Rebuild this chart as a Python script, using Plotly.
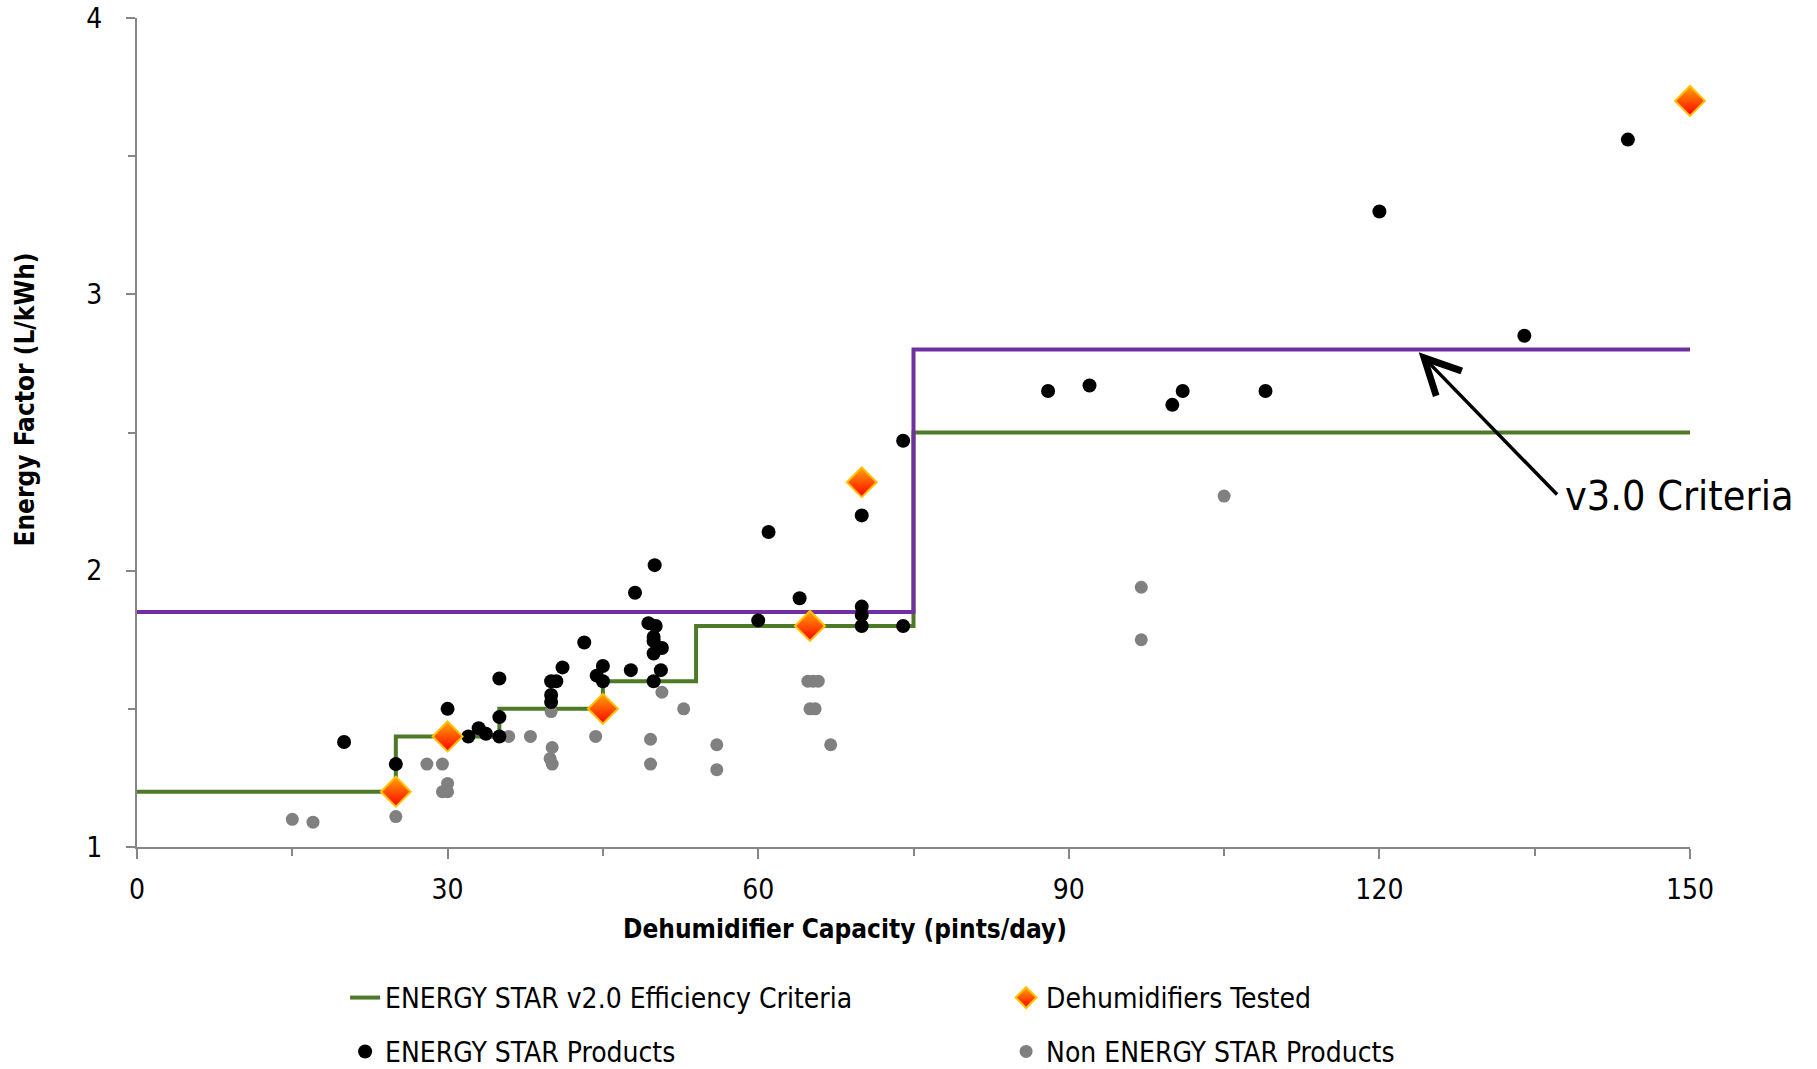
import plotly.graph_objects as go

# ---- data ----
v2_x = [0, 25, 35, 45, 54, 75, 150]
v2_y = [1.2, 1.4, 1.5, 1.6, 1.8, 2.5, 2.5]

v3_x = [0, 75, 150]
v3_y = [1.85, 2.8, 2.8]

tested_x = [25, 30, 45, 65, 70, 150]
tested_y = [1.2, 1.4, 1.5, 1.8, 2.32, 3.7]

es_x = [20, 25, 30, 32, 33, 33.7, 35, 35, 35, 41.1, 40.5, 40, 40, 40, 43.2, 45, 44.4, 45,
        47.7, 48.1, 50, 49.4, 50.1, 49.9, 49.9, 50.7, 49.9, 50.6, 49.9,
        61, 70, 64, 60, 70, 70, 70, 74, 74,
        88, 92, 101, 100, 109, 120, 134, 144]
es_y = [1.38, 1.30, 1.50, 1.40, 1.43, 1.41, 1.61, 1.47, 1.40, 1.65, 1.60, 1.60, 1.55, 1.525, 1.74, 1.655, 1.62, 1.60,
        1.64, 1.92, 2.02, 1.81, 1.80, 1.76, 1.745, 1.72, 1.70, 1.64, 1.60,
        2.14, 2.20, 1.90, 1.82, 1.87, 1.84, 1.80, 1.80, 2.47,
        2.65, 2.67, 2.65, 2.60, 2.65, 3.30, 2.85, 3.56]

non_x = [15, 17, 25, 28, 29.5, 30, 29.5, 30, 35.9, 38, 40, 40.1, 39.9, 40.1, 44.3,
         50.7, 52.8, 49.6, 49.6, 56, 56, 64.8, 65.3, 65.8, 65, 65.5, 67, 97, 97, 105]
non_y = [1.10, 1.09, 1.11, 1.30, 1.30, 1.23, 1.20, 1.20, 1.40, 1.40, 1.49, 1.36, 1.32, 1.30, 1.40,
         1.56, 1.50, 1.39, 1.30, 1.37, 1.28, 1.60, 1.60, 1.60, 1.50, 1.50, 1.37, 1.94, 1.75, 2.27]

x_ticks = [0, 30, 60, 90, 120, 150]
y_ticks = [1, 2, 3, 4]

FONT = "Liberation Sans Narrow, DejaVu Sans Condensed, Roboto, sans-serif"
AXIS_COLOR = "#868686"

fig = go.Figure()

fig.add_trace(go.Scatter(
    x=v2_x, y=v2_y, mode="lines", line=dict(color="#4E7A28", width=4, shape="hv"),
    name="ENERGY STAR v2.0 Efficiency Criteria", legend="legend", cliponaxis=False))
fig.add_trace(go.Scatter(
    x=v3_x, y=v3_y, mode="lines", line=dict(color="#7030A0", width=4, shape="hv"),
    name="v3.0 Criteria", showlegend=False, cliponaxis=False))
fig.add_trace(go.Scatter(
    x=non_x, y=non_y, mode="markers",
    marker=dict(color="#808080", size=13),
    name="Non ENERGY STAR Products", legend="legend2"))
fig.add_trace(go.Scatter(
    x=es_x, y=es_y, mode="markers",
    marker=dict(color="#000000", size=14),
    name="ENERGY STAR Products", legend="legend2"))
fig.add_trace(go.Scatter(
    x=tested_x, y=tested_y, mode="markers", cliponaxis=False,
    marker=dict(symbol="diamond", size=23, color="#FFA500",
                gradient=dict(type="vertical", color="#FF0000"),
                line=dict(color="#FFC000", width=2)),
    name="Dehumidifiers Tested", legend="legend"))

fig.update_layout(
    width=1817, height=1069,
    margin=dict(l=137, r=127, t=18, b=222, autoexpand=False),
    paper_bgcolor="white", plot_bgcolor="white",
    font=dict(family=FONT, size=24, color="black"),
    showlegend=True,
    legend=dict(orientation="h", x=0.134, y=-0.182, xanchor="left", yanchor="middle",
                entrywidth=616, entrywidthmode="pixels", traceorder="normal",
                font=dict(size=28, family=FONT), bgcolor="rgba(0,0,0,0)"),
    legend2=dict(orientation="h", x=0.134, y=-0.247, xanchor="left", yanchor="middle",
                 entrywidth=616, entrywidthmode="pixels", traceorder="reversed",
                 font=dict(size=28, family=FONT), bgcolor="rgba(0,0,0,0)"),
)

fig.update_xaxes(
    range=[0, 150], tickvals=x_ticks, ticktext=[str(v) for v in x_ticks],
    showline=True, linecolor=AXIS_COLOR, linewidth=2, showgrid=False, zeroline=False,
    ticks="outside", ticklen=10, tickwidth=2, tickcolor=AXIS_COLOR,
    tickfont=dict(size=28, family=FONT), ticklabelstandoff=6,
    minor=dict(dtick=15, tick0=0, ticks="outside", ticklen=7, tickwidth=2, tickcolor=AXIS_COLOR),
)
fig.update_yaxes(
    range=[1, 4], tickvals=y_ticks, ticktext=[str(v) for v in y_ticks],
    showline=True, linecolor=AXIS_COLOR, linewidth=2, showgrid=False, zeroline=False,
    ticks="outside", ticklen=9, tickwidth=2, tickcolor=AXIS_COLOR,
    tickfont=dict(size=28, family=FONT), ticklabelstandoff=18,
    minor=dict(dtick=0.5, tick0=1, ticks="outside", ticklen=7, tickwidth=2, tickcolor=AXIS_COLOR),
)

# axis titles
fig.add_annotation(text="<b>Dehumidifier Capacity (pints/day)</b>", xref="paper", yref="paper",
                   x=0.456, y=-0.099, xanchor="center", yanchor="middle", showarrow=False,
                   font=dict(size=26, family=FONT))
fig.add_annotation(text="<b>Energy Factor (L/kWh)</b>", xref="paper", yref="paper",
                   x=-0.072, y=0.54, xanchor="center", yanchor="middle", textangle=-90,
                   showarrow=False, font=dict(size=26, family=FONT))

# v3.0 criteria callout
fig.add_annotation(x=123.8, y=2.79, ax=137.3, ay=2.27, xref="x", yref="y", axref="x", ayref="y",
                   text="", showarrow=True, arrowhead=5, arrowsize=2, arrowwidth=3.5, arrowcolor="black")
fig.add_annotation(x=137.7, y=2.27, xref="x", yref="y", text="v3.0 Criteria", showarrow=False,
                   xanchor="left", yanchor="middle", font=dict(size=41, family=FONT))

fig.write_html("out.html")
